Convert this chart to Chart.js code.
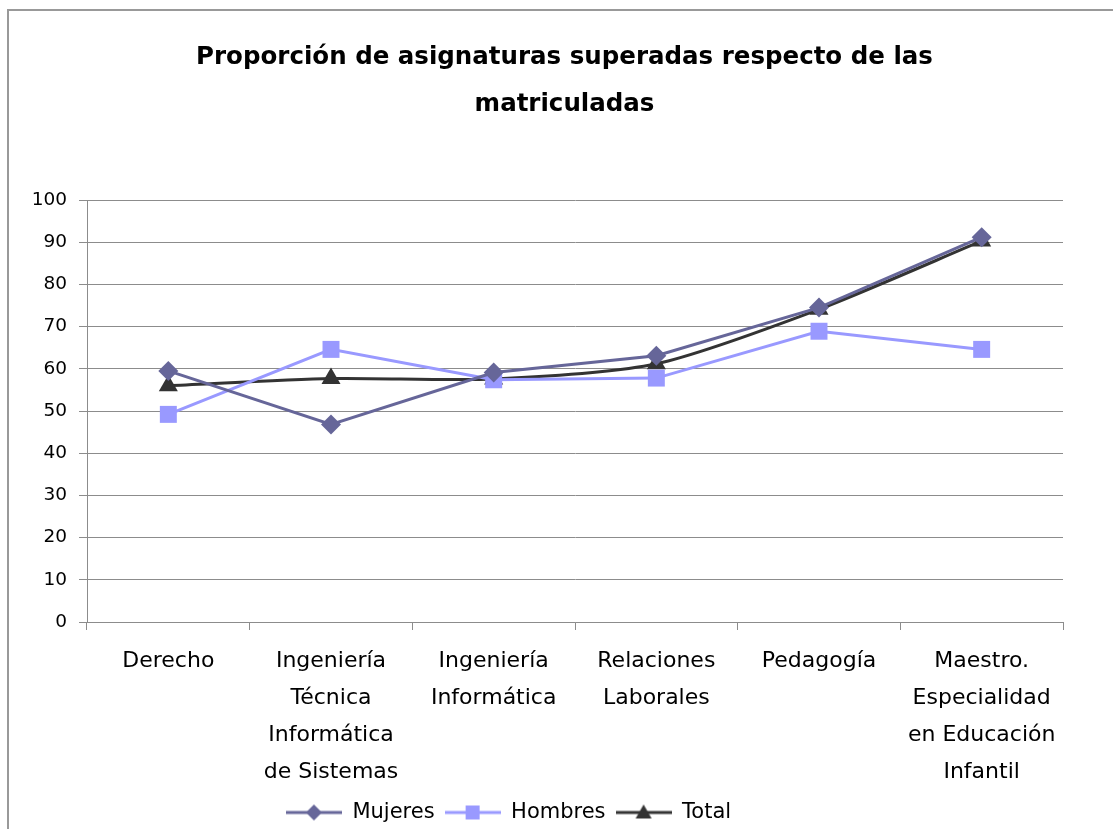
<!DOCTYPE html>
<html>
<head>
<meta charset="utf-8">
<script src="https://cdn.jsdelivr.net/npm/chart.js@4"></script>
<style>
  body { margin: 0; background: #fff; }
  #frame { position: absolute; left: 7px; top: 9px; width: 1200px; height: 900px; border: 2px solid #999; }
  #chart { position: absolute; left: 0; top: 0; }
</style>
</head>
<body>
<div id="frame"></div>
<canvas id="chart" width="1113" height="829"></canvas>
<script>
var categories = [
	['Derecho'],
	['Ingeniería', 'Técnica', 'Informática', 'de Sistemas'],
	['Ingeniería', 'Informática'],
	['Relaciones', 'Laborales'],
	['Pedagogía'],
	['Maestro.', 'Especialidad', 'en Educación', 'Infantil']
];
var mujeres = [59.5, 46.8, 59.1, 63.1, 74.5, 91.2];
var hombres = [49.2, 64.6, 57.4, 57.8, 68.9, 64.6];
var total = [56.0, 57.7, 57.6, 61.2, 74.1, 90.3];
var titleLines = ['Proporción de asignaturas superadas respecto de las', 'matriculadas'];

var FONT = "'DejaVu Sans', sans-serif";

function legendIcon(color, style) {
	var c = document.createElement('canvas');
	c.width = 56;
	c.height = 22;
	var g = c.getContext('2d');
	g.strokeStyle = color;
	g.lineWidth = 3;
	g.beginPath();
	g.moveTo(0, 11);
	g.lineTo(56, 11);
	g.stroke();
	g.fillStyle = color;
	g.beginPath();
	if (style === 'diamond') {
		g.moveTo(28, 3); g.lineTo(36, 11); g.lineTo(28, 19); g.lineTo(20, 11);
	} else if (style === 'square') {
		g.rect(21, 4, 14, 14);
	} else {
		g.moveTo(28, 3); g.lineTo(36, 17); g.lineTo(20, 17);
	}
	g.closePath();
	g.fill();
	return c;
}

var icons = [
	legendIcon('#666699', 'diamond'),
	legendIcon('#9999ff', 'square'),
	legendIcon('#333333', 'triangle')
];

// title and legend are not centred on the plot in the original, nudge them
var shiftBoxes = {
	id: 'shiftBoxes',
	afterLayout: function(chart) {
		if (chart.titleBlock) {
			chart.titleBlock.left += 33;
			chart.titleBlock.right += 33;
		}
		if (chart.legend) {
			chart.legend.left -= 23;
			chart.legend.right -= 23;
		}
	}
};

var ctx = document.getElementById('chart');
var chart = new Chart(ctx, {
	type: 'line',
	data: {
		labels: categories,
		datasets: [
			{ label: 'Mujeres', data: mujeres, borderColor: '#666699', backgroundColor: '#666699',
				borderWidth: 3, pointStyle: 'rectRot', pointRadius: 10, pointBorderWidth: 0, tension: 0 },
			{ label: 'Hombres', data: hombres, borderColor: '#9999ff', backgroundColor: '#9999ff',
				borderWidth: 3, pointStyle: 'rect', pointRadius: 12, pointBorderWidth: 0, tension: 0 },
			{ label: 'Total', data: total, borderColor: '#333333', backgroundColor: '#333333',
				borderWidth: 3, pointStyle: 'triangle', pointRadius: 11, pointBorderWidth: 0, tension: 0.25 }
		]
	},
	plugins: [shiftBoxes],
	options: {
		responsive: false,
		animation: false,
		devicePixelRatio: 1,
		layout: { padding: { left: 0, right: 50, top: 0, bottom: -4 } },
		plugins: {
			tooltip: { enabled: false },
			title: {
				display: true,
				text: titleLines,
				color: '#000',
				font: { family: FONT, size: 24.5, weight: 'bold', lineHeight: 47 / 24.5 },
				padding: { top: 34.5, bottom: 71.5 }
			},
			legend: {
				position: 'bottom',
				labels: {
					color: '#000',
					font: { family: FONT, size: 21 },
					usePointStyle: true,
					pointStyleWidth: 56,
					padding: 10,
					generateLabels: function(chart) {
						return chart.data.datasets.map(function(ds, i) {
							return { text: ds.label, pointStyle: icons[i], fontColor: '#000',
								datasetIndex: i, lineWidth: 0, strokeStyle: 'transparent', fillStyle: 'transparent' };
						});
					}
				}
			}
		},
		scales: {
			x: {
				offset: true,
				grid: { offset: true, drawOnChartArea: false, drawTicks: true, tickLength: 8, color: '#8c8c8c' },
				border: { color: '#8c8c8c' },
				ticks: { color: '#000', maxRotation: 0, autoSkip: false, padding: 13,
					font: { family: FONT, size: 22, lineHeight: 37 / 22 } },
				afterFit: function(scale) { scale.height = 170; }
			},
			y: {
				min: 0, max: 100,
				grid: { color: '#8c8c8c', tickLength: 8 },
				border: { color: '#8c8c8c' },
				ticks: { stepSize: 10, color: '#000', padding: 12, font: { family: FONT, size: 18.5 } },
				afterFit: function(scale) { scale.width = 87; }
			}
		}
	}
});
</script>
</body>
</html>
